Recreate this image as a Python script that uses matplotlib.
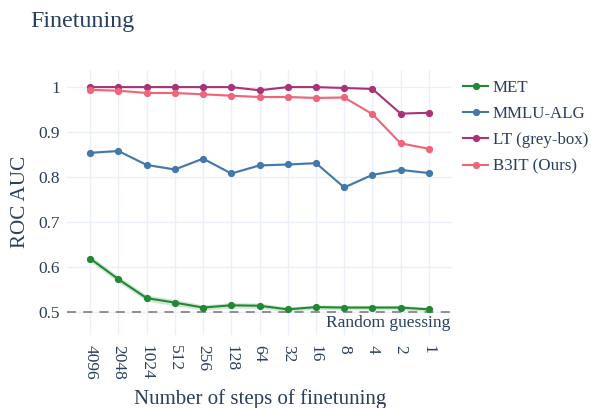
import matplotlib
matplotlib.use("Agg")
import matplotlib.pyplot as plt
import matplotlib.transforms as mtransforms

plt.rcParams['font.family'] = ['Liberation Serif', 'DejaVu Serif']

# data
steps = ['4096', '2048', '1024', '512', '256', '128', '64', '32', '16', '8', '4', '2', '1']
met = [0.619, 0.573, 0.531, 0.521, 0.510, 0.515, 0.514, 0.506, 0.511, 0.510, 0.510, 0.510, 0.506]
met_err = [0.007, 0.007, 0.007, 0.007, 0.006, 0.006, 0.006, 0.005, 0.005, 0.005, 0.005, 0.005, 0.005]
mmlu = [0.854, 0.858, 0.827, 0.817, 0.841, 0.808, 0.826, 0.828, 0.831, 0.777, 0.805, 0.816, 0.809]
mmlu_err = [0.002] * 13
lt = [1.0, 1.0, 1.0, 1.0, 1.0, 1.0, 0.993, 1.0, 1.0, 0.998, 0.996, 0.941, 0.943]
lt_err = [0.001] * 13
b3it = [0.994, 0.992, 0.987, 0.987, 0.984, 0.981, 0.978, 0.978, 0.976, 0.977, 0.940, 0.875, 0.863]
b3it_err = [0.002] * 13

series = [
    ('MET', met, met_err, '#228833'),
    ('MMLU-ALG', mmlu, mmlu_err, '#4477AA'),
    ('LT (grey-box)', lt, lt_err, '#AA3377'),
    ('B3IT (Ours)', b3it, b3it_err, '#EE6677'),
]

txt = '#2a3f5f'
grid = '#EBF0F8'
W, H = 591, 408

fig = plt.figure(figsize=(W / 100, H / 100), dpi=100)
ax = fig.add_axes([67 / W, 1 - 335 / H, (452 - 67) / W, (335 - 70) / H])

x = list(range(len(steps)))
for name, vals, err, col in series:
    lo = [v - e for v, e in zip(vals, err)]
    hi = [v + e for v, e in zip(vals, err)]
    ax.fill_between(x, lo, hi, color=col, alpha=0.2, linewidth=0, zorder=2)
    ax.plot(x, vals, color=col, lw=1.5, marker='o', ms=4.2, label=name, zorder=3)

ax.axhline(0.5, color='#888888', lw=1.3, ls=(0, (5, 4)), zorder=2.5)
trans = mtransforms.blended_transform_factory(ax.transAxes, ax.transData)
ax.text(0.995, 0.494, 'Random guessing', transform=trans, ha='right', va='top',
        fontsize=12.5, color=txt)

ax.set_xlim(-0.82, 12.82)
ax.set_ylim(0.449, 1.038)
ax.set_xticks(x)
ax.set_xticklabels(steps, rotation=-90)
ax.set_yticks([0.5, 0.6, 0.7, 0.8, 0.9, 1.0])
ax.set_yticklabels(['0.5', '0.6', '0.7', '0.8', '0.9', '1'])
ax.tick_params(length=0, labelsize=12.5, labelcolor=txt, pad=5)
ax.tick_params(axis='x', pad=7)
ax.grid(True, color=grid, lw=1, zorder=0)
ax.set_axisbelow(True)
for s in ax.spines.values():
    s.set_visible(False)

fig.text(30 / W, 1 - 27 / H, 'Finetuning', fontsize=17.3, color=txt, va='baseline')
fig.text(21 / W, 1 - 202 / H, 'ROC AUC', fontsize=15.2, color=txt, rotation=90,
         ha='center', va='center')
fig.text(260 / W, 1 - 404 / H, 'Number of steps of finetuning', fontsize=15,
         color=txt, ha='center', va='baseline')

fig.legend(loc='upper left', bbox_to_anchor=(463 / W, 1 - 80 / H), frameon=False,
           fontsize=12.2, labelcolor=txt, handlelength=1.5, handletextpad=0.25,
           labelspacing=0.6, borderpad=0, borderaxespad=0)

fig.savefig('out.png', dpi=100)
